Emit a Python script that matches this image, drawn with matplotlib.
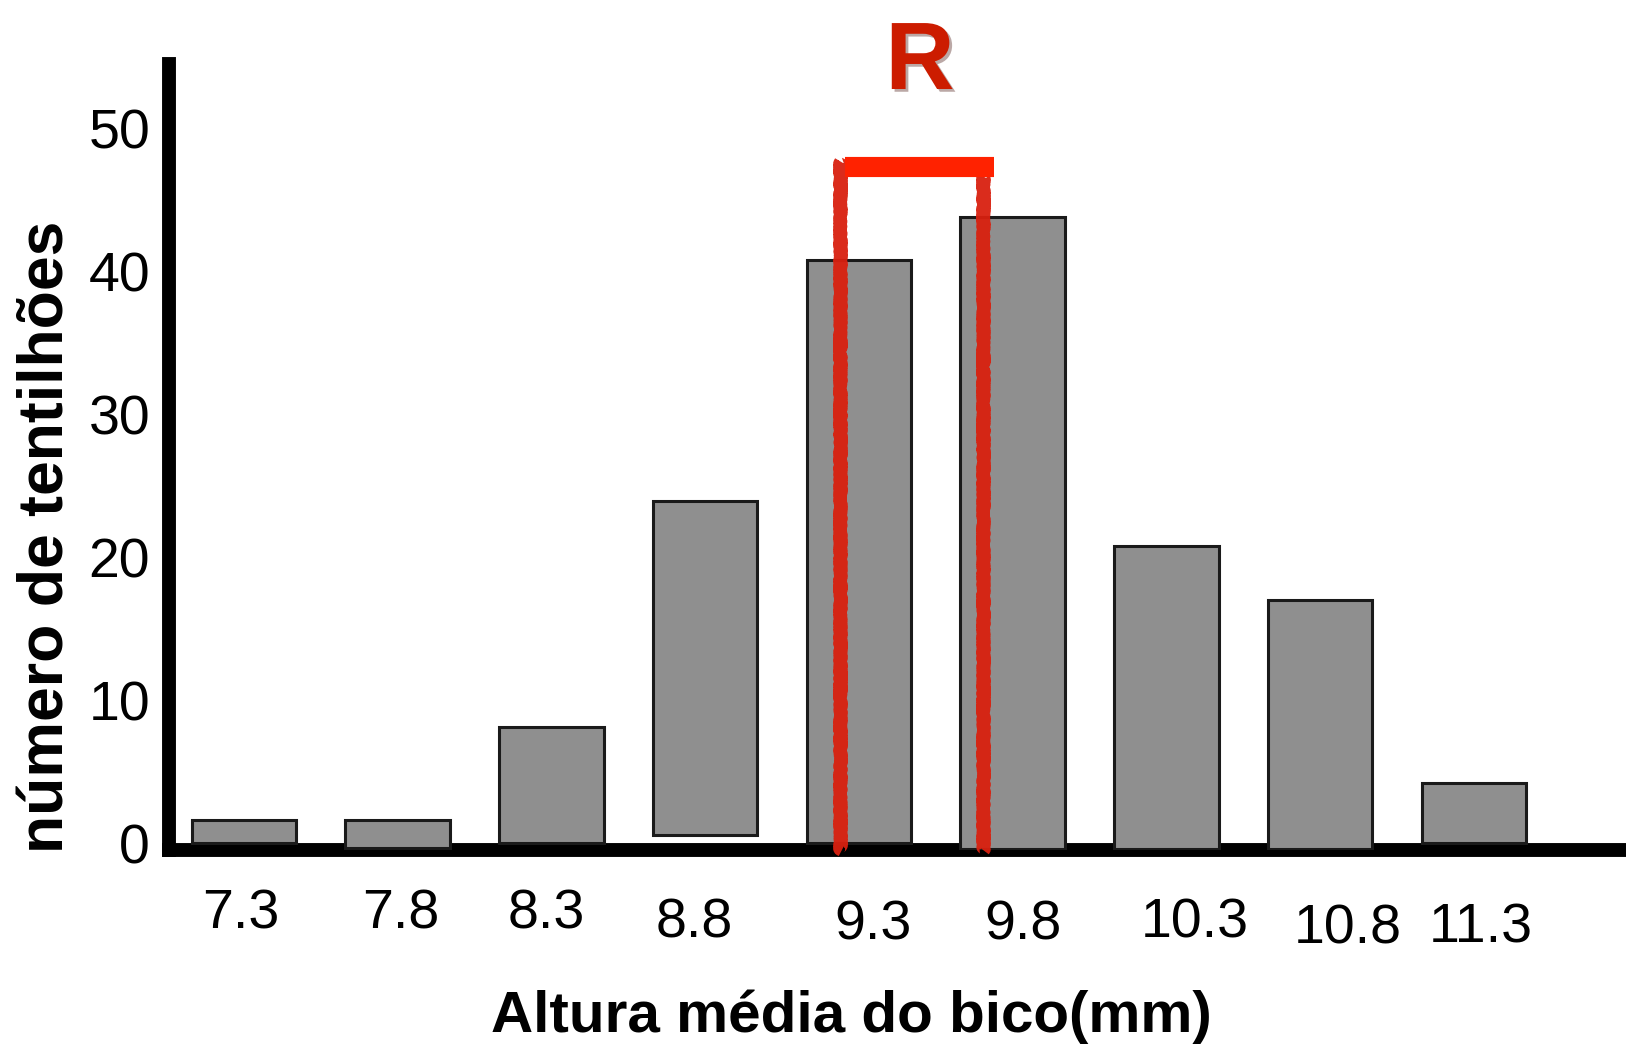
import matplotlib
matplotlib.use('Agg')
import matplotlib.pyplot as plt
import matplotlib.patheffects as pe
import matplotlib.transforms as mtransforms
import numpy as np

plt.rcParams['font.family'] = ['Liberation Sans', 'DejaVu Sans']

# data
categories = ['7.3', '7.8', '8.3', '8.8', '9.3', '9.8', '10.3', '10.8', '11.3']
bar_tops = [1.6, 1.6, 8.1, 23.9, 40.8, 43.8, 20.8, 17.0, 4.2]
bar_bottoms = [0.0, -0.35, 0.0, 0.55, 0.0, -0.4, -0.4, -0.4, 0.0]
y_ticks = [0, 10, 20, 30, 40, 50]

# hand placed tick labels drift a little (pixels, right / down)
label_dx = [-3, 3, -5, -11, 14, 10, 28, 28, 7]
label_dy = [0, 0, 0, 9, 11, 11, 9, 15, 14]

# the hand drawn "R" bracket (data units)
r_left, r_right = 3.88, 4.81
r_bar_left, r_bar_right = 3.91, 4.88
r_top = 47.3

fig = plt.figure(figsize=(16.26, 10.48), dpi=100)
ax = fig.add_axes([0.1042, 0.1889, 0.8958, 0.9389 - 0.1889])

x = np.arange(len(categories))
heights = np.array(bar_tops) - np.array(bar_bottoms)
ax.bar(x, heights, bottom=bar_bottoms, width=0.68, color='#8f8f8f',
       edgecolor='#1a1a1a', linewidth=2.2, zorder=3)

ax.set_xlim(-0.485, 8.99)
ax.set_ylim(-0.49, 54.5)

for side in ('top', 'right'):
    ax.spines[side].set_visible(False)
for side in ('left', 'bottom'):
    ax.spines[side].set_linewidth(10)
    ax.spines[side].set_color('black')
    ax.spines[side].set_zorder(2)

ax.set_xticks(x)
ax.set_xticklabels(categories)
ax.set_yticks(y_ticks)
ax.tick_params(axis='both', length=0, labelsize=40)
ax.tick_params(axis='x', pad=28)
ax.tick_params(axis='y', pad=14)

for lbl, dx, dy in zip(ax.get_xticklabels(), label_dx, label_dy):
    off = mtransforms.ScaledTranslation(dx / 100, -dy / 100, fig.dpi_scale_trans)
    lbl.set_transform(lbl.get_transform() + off)

ax.set_xlabel('Altura média do bico(mm)', fontsize=42, fontweight='bold', va='center')
ax.xaxis.set_label_coords(0.468, -0.212)
ax.set_ylabel('número de tentilhões', fontsize=45, fontweight='bold', va='center')
ax.yaxis.set_label_coords(-0.0841, 0.398)

# red bracket marking R
rough = dict(color='#d8200f', linewidth=9, solid_capstyle='butt', zorder=5, alpha=0.95)
for xv, ytop in ((r_left, r_top + 0.4), (r_right, r_top - 0.6)):
    ln, = ax.plot([xv, xv], [ytop, -0.5], **rough)
    ln.set_sketch_params(scale=1.2, length=4, randomness=3)
    ln.set_clip_on(False)
ax.plot([r_bar_left, r_bar_right], [r_top, r_top], color='#ff2200',
        linewidth=14.5, solid_capstyle='butt', zorder=6, clip_on=False)

fig.text(920 / 1626, 1 - 64 / 1048, 'R', fontsize=69, fontweight='bold',
         color='#cc1c00', ha='center', va='center',
         path_effects=[pe.SimplePatchShadow(offset=(2, -2), alpha=0.35), pe.Normal()])

fig.savefig('out.png', dpi=100)
